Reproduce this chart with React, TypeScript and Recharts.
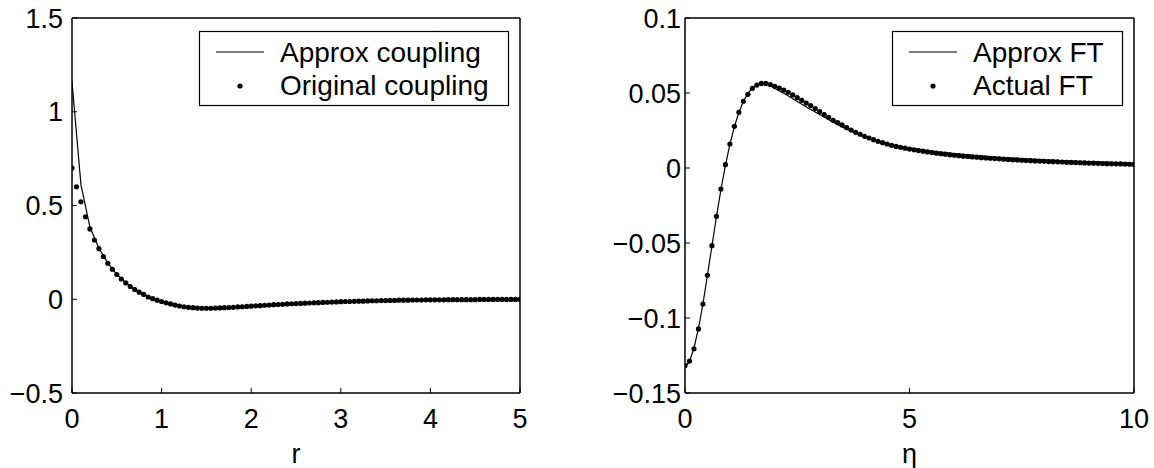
import React from 'react';
import { ComposedChart, Line, Scatter, XAxis, YAxis } from 'recharts';

const FONT = '"Liberation Sans", Arial, Helvetica, sans-serif';

// ---------- Left panel: coupling vs r ----------
const rTicks = [0, 1, 2, 3, 4, 5];
const couplingTicks = [-0.5, 0, 0.5, 1, 1.5];

const approxR = [
  0, 0.1, 0.2, 0.3, 0.4, 0.5, 0.6, 0.7, 0.8, 0.9, 1.0, 1.1, 1.2, 1.3, 1.4, 1.5, 1.6, 1.7, 1.8, 1.9, 2.0,
  2.1, 2.2, 2.3, 2.4, 2.5, 2.6, 2.7, 2.8, 2.9, 3.0, 3.1, 3.2, 3.3, 3.4, 3.5, 3.6, 3.7, 3.8, 3.9, 4.0,
  4.1, 4.2, 4.3, 4.4, 4.5, 4.6, 4.7, 4.8, 4.9, 5.0,
];
const approxCoupling = [
  1.16, 0.61, 0.385, 0.272, 0.192, 0.133, 0.088, 0.053, 0.026, 0.005, -0.011, -0.024, -0.034, -0.041,
  -0.046, -0.048, -0.048, -0.046, -0.044, -0.041, -0.038, -0.035, -0.032, -0.029, -0.026, -0.023,
  -0.021, -0.019, -0.017, -0.015, -0.013, -0.011, -0.010, -0.009, -0.008, -0.007, -0.006, -0.005,
  -0.005, -0.004, -0.004, -0.003, -0.003, -0.003, -0.002, -0.002, -0.002, -0.002, -0.001, -0.001, -0.001,
];

const originalR = [
  0, 0.05, 0.1, 0.15, 0.2, 0.25, 0.3, 0.35, 0.4, 0.45, 0.5, 0.55, 0.6, 0.65, 0.7, 0.75, 0.8, 0.85, 0.9, 0.95,
  1.0, 1.05, 1.1, 1.15, 1.2, 1.25, 1.3, 1.35, 1.4, 1.45, 1.5, 1.55, 1.6, 1.65, 1.7, 1.75, 1.8, 1.85, 1.9, 1.95,
  2.0, 2.05, 2.1, 2.15, 2.2, 2.25, 2.3, 2.35, 2.4, 2.45, 2.5, 2.55, 2.6, 2.65, 2.7, 2.75, 2.8, 2.85, 2.9, 2.95,
  3.0, 3.05, 3.1, 3.15, 3.2, 3.25, 3.3, 3.35, 3.4, 3.45, 3.5, 3.55, 3.6, 3.65, 3.7, 3.75, 3.8, 3.85, 3.9, 3.95,
  4.0, 4.05, 4.1, 4.15, 4.2, 4.25, 4.3, 4.35, 4.4, 4.45, 4.5, 4.55, 4.6, 4.65, 4.7, 4.75, 4.8, 4.85, 4.9, 4.95, 5.0,
];
const originalCoupling = [
  0.70, 0.60, 0.52, 0.44, 0.375, 0.316, 0.27, 0.228, 0.192, 0.16, 0.132, 0.108, 0.087, 0.068, 0.052, 0.038,
  0.026, 0.012, 0.003, -0.005, -0.012, -0.019, -0.025, -0.031, -0.036, -0.040, -0.043, -0.045, -0.047, -0.048,
  -0.048, -0.048, -0.047, -0.046, -0.045, -0.044, -0.043, -0.041, -0.040, -0.038, -0.037, -0.035, -0.034,
  -0.032, -0.031, -0.029, -0.028, -0.027, -0.025, -0.024, -0.023, -0.022, -0.021, -0.020, -0.019, -0.018,
  -0.017, -0.016, -0.015, -0.014, -0.013, -0.012, -0.012, -0.011, -0.010, -0.010, -0.009, -0.008, -0.008,
  -0.007, -0.007, -0.006, -0.006, -0.005, -0.005, -0.005, -0.004, -0.004, -0.004, -0.003, -0.003, -0.003,
  -0.003, -0.003, -0.002, -0.002, -0.002, -0.002, -0.002, -0.002, -0.002, -0.001, -0.001, -0.001, -0.001,
  -0.001, -0.001, -0.001, -0.001, -0.001, -0.001,
];

// ---------- Right panel: FT vs eta ----------
const etaTicks = [0, 5, 10];
const ftTicks = [-0.15, -0.1, -0.05, 0, 0.05, 0.1];

const approxEta = [
  0, 0.1, 0.2, 0.3, 0.4, 0.5, 0.6, 0.7, 0.8, 0.9, 1.0, 1.1, 1.2, 1.3, 1.4, 1.5, 1.6, 1.7, 1.8, 1.9, 2.0,
  2.25, 2.5, 2.75, 3.0, 3.25, 3.5, 3.75, 4.0, 4.5, 5.0, 5.5, 6.0, 6.5, 7.0, 7.5, 8.0, 8.5, 9.0, 9.5, 10.0,
];
const approxFT = [
  -0.1325, -0.129, -0.12, -0.107, -0.0905, -0.0715, -0.052, -0.0325, -0.0145, 0.0018, 0.0158, 0.0276,
  0.037, 0.0443, 0.0497, 0.0533, 0.0554, 0.0563, 0.0561, 0.0548, 0.0530, 0.0490, 0.0443, 0.0398, 0.0356,
  0.0314, 0.0274, 0.0238, 0.0205, 0.0158, 0.0133, 0.0113, 0.0096, 0.0082, 0.0071, 0.0062, 0.0054, 0.0047,
  0.0042, 0.0037, 0.0033,
];

const actualEta = [
  0, 0.1, 0.2, 0.3, 0.4, 0.5, 0.6, 0.7, 0.8, 0.9, 1.0, 1.1, 1.2, 1.3, 1.4, 1.5, 1.6, 1.7, 1.8, 1.9,
  2.0, 2.1, 2.2, 2.3, 2.4, 2.5, 2.6, 2.7, 2.8, 2.9, 3.0, 3.1, 3.2, 3.3, 3.4, 3.5, 3.6, 3.7, 3.8, 3.9,
  4.0, 4.1, 4.2, 4.3, 4.4, 4.5, 4.6, 4.7, 4.8, 4.9, 5.0, 5.1, 5.2, 5.3, 5.4, 5.5, 5.6, 5.7, 5.8, 5.9,
  6.0, 6.1, 6.2, 6.3, 6.4, 6.5, 6.6, 6.7, 6.8, 6.9, 7.0, 7.1, 7.2, 7.3, 7.4, 7.5, 7.6, 7.7, 7.8, 7.9,
  8.0, 8.1, 8.2, 8.3, 8.4, 8.5, 8.6, 8.7, 8.8, 8.9, 9.0, 9.1, 9.2, 9.3, 9.4, 9.5, 9.6, 9.7, 9.8, 9.9, 10.0,
];
const actualFT = [
  -0.1318, -0.1287, -0.1205, -0.1073, -0.0907, -0.0715, -0.0518, -0.0322, -0.014, 0.0022, 0.016, 0.0278,
  0.0371, 0.0445, 0.0491, 0.0531, 0.0553, 0.0564, 0.0564, 0.0556, 0.0545, 0.0533, 0.052, 0.0505, 0.0487,
  0.0469, 0.0451, 0.0433, 0.0416, 0.0396, 0.0376, 0.0356, 0.0338, 0.0318, 0.0302, 0.0287, 0.0269, 0.0253,
  0.0238, 0.0225, 0.0211, 0.02, 0.0189, 0.0178, 0.0169, 0.016, 0.0151, 0.0144, 0.0138, 0.0132, 0.0126,
  0.0121, 0.0116, 0.0112, 0.0107, 0.0103, 0.0099, 0.0095, 0.0092, 0.0088, 0.0085, 0.0082, 0.0079, 0.0077,
  0.0074, 0.0072, 0.0069, 0.0067, 0.0065, 0.0063, 0.0061, 0.0059, 0.0057, 0.0055, 0.0054, 0.0052, 0.005,
  0.0049, 0.0047, 0.0046, 0.0045, 0.0043, 0.0042, 0.0041, 0.004, 0.0038, 0.0037, 0.0036, 0.0035, 0.0034,
  0.0033, 0.0032, 0.0031, 0.003, 0.0029, 0.0028, 0.0028, 0.0027, 0.0026, 0.0025, 0.0024,
];

const zip = (xs: number[], ys: number[]) => xs.map((x, i) => ({ x, y: ys[i] }));

const fmt = (v: number) => String(v).replace('-', '\u2212');

const tickStyle = { fontSize: 27, fill: '#000', fontFamily: FONT };
const axisLine = { stroke: '#000', strokeWidth: 1.5 };
const tickLine = { stroke: '#000', strokeWidth: 1 };

const Dot = (props: any) => {
  if (props.cx == null || props.cy == null) return <g />;
  return <circle cx={props.cx} cy={props.cy} r={2.6} fill="#000" />;
};

type LegendProps = { width: number; labels: [string, string]; textX: number };
const LegendBox = ({ width, labels, textX }: LegendProps) => (
  <svg width={width} height={75} style={{ display: 'block', overflow: 'visible' }}>
    <rect x={0.5} y={0.5} width={width - 1} height={74} fill="#fff" stroke="#000" strokeWidth={1.2} />
    <line x1={textX - 64} x2={textX - 16} y1={21} y2={21} stroke="#000" strokeWidth={1.2} />
    <circle cx={textX - 40} cy={55} r={2.6} fill="#000" />
    <text x={textX} y={31} fontSize={28} fontFamily={FONT} fill="#000">
      {labels[0]}
    </text>
    <text x={textX} y={64} fontSize={28} fontFamily={FONT} fill="#000">
      {labels[1]}
    </text>
  </svg>
);

type PanelProps = {
  left: number;
  width: number;
  margin: { top: number; right: number; bottom: number; left: number };
  yAxisWidth: number;
  yTickMargin: number;
  xDomain: [number, number];
  yDomain: [number, number];
  xTicks: number[];
  yTicks: number[];
  xLabel: string;
  line: { x: number; y: number }[];
  dots: { x: number; y: number }[];
  legend: { left: number; width: number; labels: [string, string] };
};

const Panel = (p: PanelProps) => (
  <div style={{ position: 'absolute', left: p.left, top: 0, width: p.width, height: 468 }}>
    <ComposedChart width={p.width} height={468} margin={p.margin}>
      <XAxis
        dataKey="x"
        type="number"
        domain={p.xDomain}
        ticks={p.xTicks}
        allowDataOverflow
        height={75}
        tickSize={-5}
        tickMargin={21}
        tick={tickStyle}
        tickFormatter={fmt}
        axisLine={axisLine}
        tickLine={tickLine}
        interval={0}
        label={{ value: p.xLabel, position: 'insideBottom', offset: 5, style: { fontSize: 27, fill: '#000', fontFamily: FONT } }}
      />
      <XAxis
        xAxisId="top"
        dataKey="x"
        orientation="top"
        type="number"
        domain={p.xDomain}
        ticks={p.xTicks}
        height={1}
        tickSize={-5}
        tick={false}
        axisLine={axisLine}
        interval={0}
      />
      <YAxis
        dataKey="y"
        type="number"
        domain={p.yDomain}
        ticks={p.yTicks}
        allowDataOverflow
        width={p.yAxisWidth}
        tickSize={-5}
        tickMargin={p.yTickMargin}
        tick={tickStyle}
        tickFormatter={fmt}
        axisLine={axisLine}
        tickLine={tickLine}
        interval={0}
      />
      <YAxis
        yAxisId="right"
        dataKey="y"
        orientation="right"
        type="number"
        domain={p.yDomain}
        ticks={p.yTicks}
        width={1}
        tickSize={-5}
        tick={false}
        axisLine={axisLine}
        interval={0}
      />
      <Line
        xAxisId="top"
        yAxisId="right"
        data={p.dots}
        dataKey="y"
        stroke="none"
        dot={false}
        isAnimationActive={false}
      />
      <Line
        data={p.line}
        dataKey="y"
        type="linear"
        stroke="#000"
        strokeWidth={1.2}
        dot={false}
        activeDot={false}
        isAnimationActive={false}
      />
      <Scatter data={p.dots} dataKey="y" shape={Dot} isAnimationActive={false} />
    </ComposedChart>
    <div style={{ position: 'absolute', left: p.legend.left, top: 31, width: p.legend.width, height: 75 }}>
      <LegendBox width={p.legend.width} labels={p.legend.labels} textX={81} />
    </div>
  </div>
);

export default function App() {
  return (
    <div style={{ position: 'absolute', left: 0, top: 0, width: 1154, height: 468, background: '#fff' }}>
      <Panel
        left={0}
        width={560}
        margin={{ top: 17, right: 39, bottom: 0, left: 12 }}
        yAxisWidth={60}
        yTickMargin={14}
        xDomain={[0, 5]}
        yDomain={[-0.5, 1.5]}
        xTicks={rTicks}
        yTicks={couplingTicks}
        xLabel="r"
        line={zip(approxR, approxCoupling)}
        dots={zip(originalR, originalCoupling)}
        legend={{ left: 199, width: 310, labels: ['Approx coupling', 'Original coupling'] }}
      />
      <Panel
        left={580}
        width={574}
        margin={{ top: 17, right: 19, bottom: 0, left: 25 }}
        yAxisWidth={80}
        yTickMargin={9}
        xDomain={[0, 10]}
        yDomain={[-0.15, 0.1]}
        xTicks={etaTicks}
        yTicks={ftTicks}
        xLabel={'\u03b7'}
        line={zip(approxEta, approxFT)}
        dots={zip(actualEta, actualFT)}
        legend={{ left: 312, width: 231, labels: ['Approx FT', 'Actual FT'] }}
      />
    </div>
  );
}
